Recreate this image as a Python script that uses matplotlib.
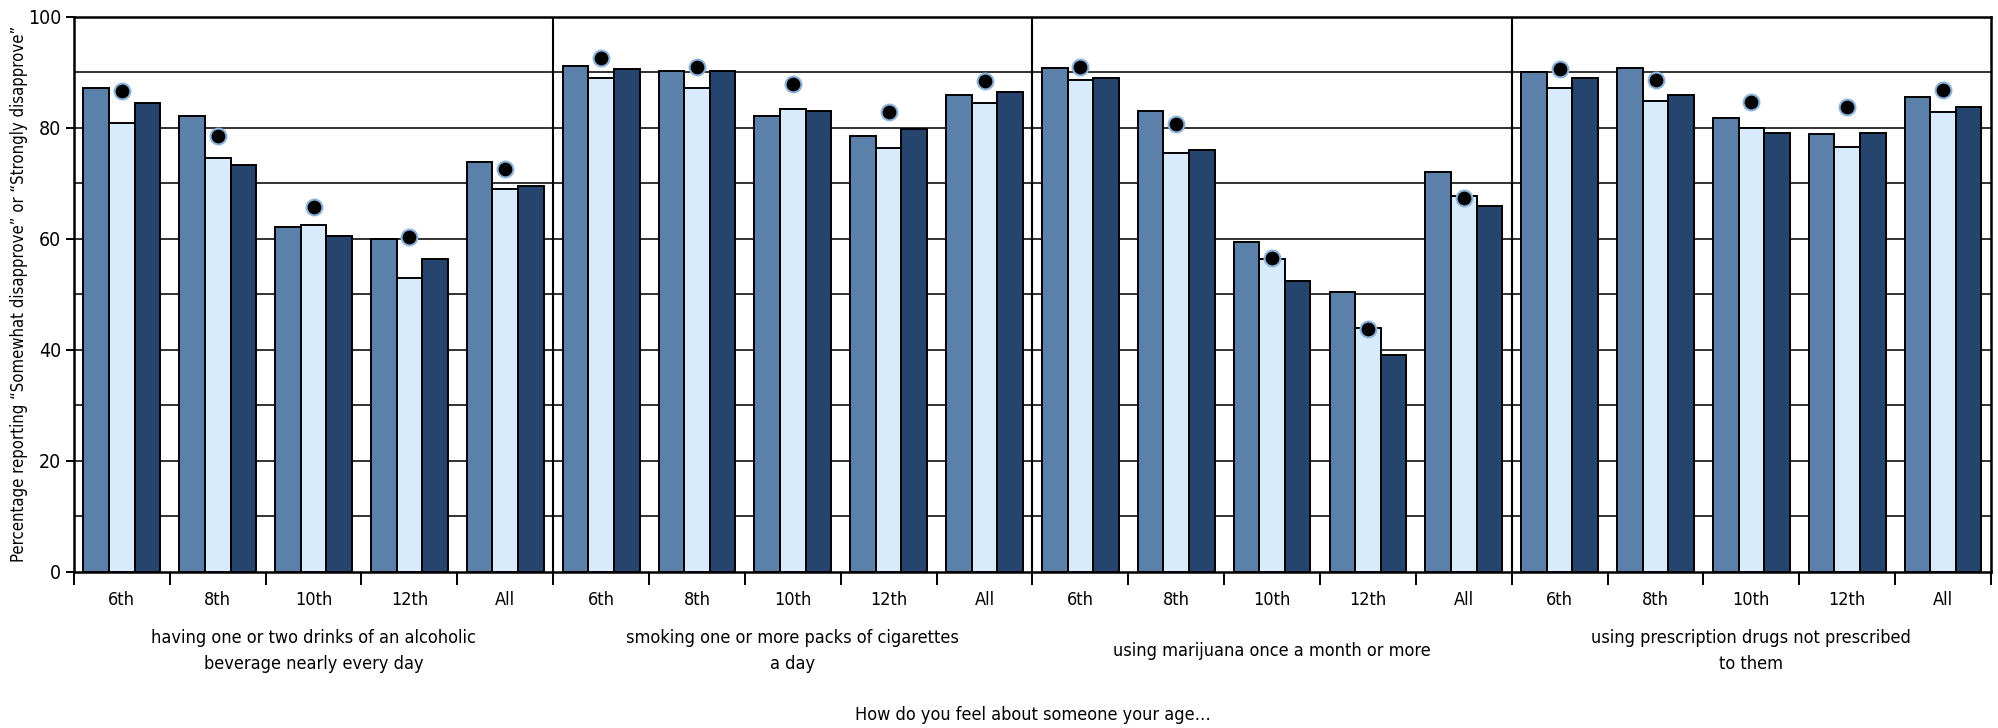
import numpy as np
import matplotlib.pyplot as plt
from matplotlib import font_manager

# use a narrow face if one is around, it is closer to the original look
narrow = None
for f in font_manager.fontManager.ttflist:
    if 'Narrow' in f.name or 'Condensed' in f.name:
        narrow = f.name
        break
    if f.stretch in ('condensed', 'semi-condensed') and f.name == 'DejaVu Sans':
        narrow = 'DejaVu Sans'
        plt.rcParams['font.stretch'] = 'condensed'
        break

if narrow:
    plt.rcParams['font.family'] = [narrow, 'DejaVu Sans']
    fs = 13
else:
    plt.rcParams['font.family'] = ['DejaVu Sans']
    fs = 11

grades = ['6th', '8th', '10th', '12th', 'All']
topics = ['having one or two drinks of an alcoholic\nbeverage nearly every day',
          'smoking one or more packs of cigarettes\na day',
          'using marijuana once a month or more',
          'using prescription drugs not prescribed\nto them']

# values per topic, in grade order (6th, 8th, 10th, 12th, All)
series1 = [87.1, 82.2, 62.2, 60.0, 73.8,
           91.1, 90.2, 82.2, 78.5, 85.9,
           90.8, 83.1, 59.5, 50.5, 72.0,
           90.0, 90.8, 81.8, 78.8, 85.5]
series2 = [80.9, 74.5, 62.5, 52.9, 69.0,
           88.9, 87.1, 83.4, 76.4, 84.4,
           88.6, 75.4, 56.4, 44.0, 67.7,
           87.1, 84.9, 80.0, 76.6, 82.8]
series3 = [84.4, 73.3, 60.6, 56.4, 69.6,
           90.5, 90.2, 83.1, 79.7, 86.5,
           89.0, 76.0, 52.4, 39.1, 65.9,
           89.0, 85.9, 79.1, 79.1, 83.7]
dots = [86.6, 78.6, 65.7, 60.3, 72.5,
        92.6, 90.9, 87.8, 82.8, 88.4,
        90.9, 80.7, 56.5, 43.7, 67.4,
        90.6, 88.6, 84.6, 83.7, 86.8]

c1 = '#5b81ab'
c2 = '#d8ebfc'
c3 = '#26456e'

fig = plt.figure(figsize=(19.98, 7.28), dpi=100)
ax = fig.add_axes([0.037, 0.2143, 0.9595, 0.7627])

n = len(series1)
x = np.arange(n) + 0.5
w = 0.267

# gridlines behind bars
for yv in range(10, 100, 10):
    ax.axhline(yv, color='#222222', lw=1.3, zorder=0)

ax.bar(x - w, series1, w, color=c1, edgecolor='black', lw=1.4, zorder=2)
ax.bar(x, series2, w, color=c2, edgecolor='black', lw=1.4, zorder=2)
ax.bar(x + w, series3, w, color=c3, edgecolor='black', lw=1.4, zorder=2)
ax.scatter(x, dots, s=130, color='black', edgecolors='#8fb4dc', linewidths=1.5, zorder=4)

# panel dividers
for xv in [5, 10, 15]:
    ax.axvline(xv, color='black', lw=1.5, zorder=3)

ax.set_xlim(0, n)
ax.set_ylim(0, 100)

for s in ax.spines.values():
    s.set_linewidth(1.8)
    s.set_zorder(5)

ax.set_xticks(np.arange(0, n + 1))
ax.set_xticklabels([])
ax.set_xticks(x, minor=True)
ax.set_xticklabels(grades * 4, minor=True, fontsize=fs)
ax.tick_params(axis='x', which='major', length=9, width=1.4, direction='out')
ax.tick_params(axis='x', which='minor', length=0, pad=14)

ax.set_yticks([0, 20, 40, 60, 80, 100])
ax.tick_params(axis='y', length=6, width=1.4, labelsize=fs + 1, pad=3)

ax.set_ylabel('Percentage reporting \u201cSomewhat disapprove\u201d or \u201cStrongly disapprove\u201d',
              fontsize=fs * 0.92)
ax.yaxis.set_label_coords(-0.024, 0.5)

for i, t in enumerate(topics):
    fig.text(ax.get_position().x0 + ax.get_position().width * (i * 5 + 2.5) / n,
             1 - 651 / 728, t, ha='center', va='center', fontsize=fs, linespacing=1.6)

fig.text(ax.get_position().x0 + ax.get_position().width / 2, 1 - 715 / 728,
         'How do you feel about someone your age\u2026', ha='center', va='center', fontsize=fs)

fig.savefig('out.png', dpi=100)
